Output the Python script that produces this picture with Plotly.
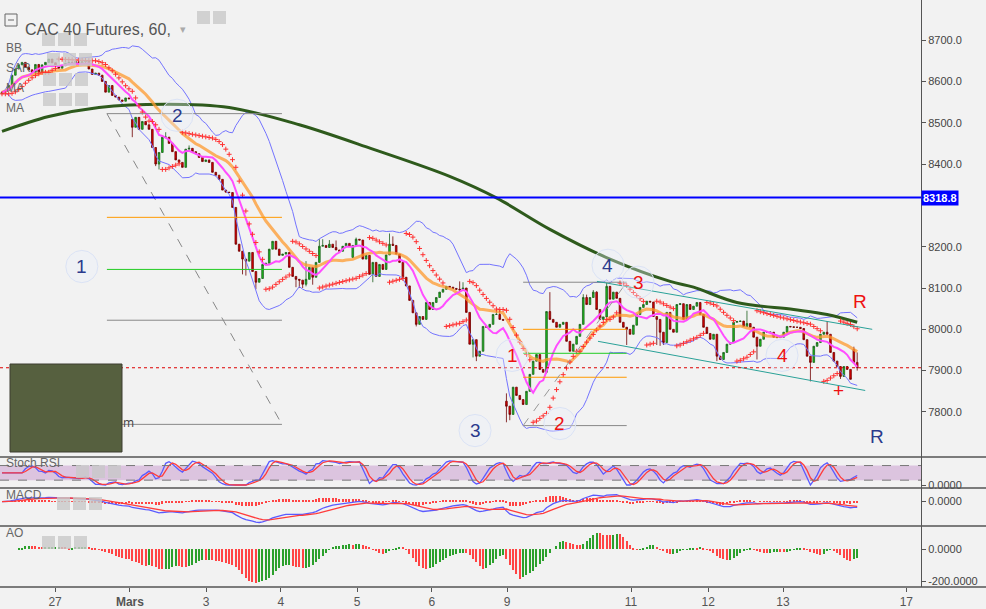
import numpy as np
import pandas as pd
import plotly.graph_objects as go

# hourly closes, CAC 40 futures
closes = [
    8574, 8578, 8590, 8615, 8630, 8640, 8646, 8634, 8628, 8622,
    8641, 8622, 8640, 8646, 8654, 8645, 8636, 8632, 8638, 8644,
    8646, 8645, 8648, 8644, 8648, 8650, 8630, 8617, 8620, 8615,
    8600, 8574, 8590, 8566, 8562, 8555, 8552, 8560, 8558, 8489,
    8513, 8484, 8503, 8495, 8484, 8440, 8400, 8428, 8465, 8465,
    8450, 8430, 8410, 8404, 8392, 8436, 8438, 8430, 8425, 8416,
    8406, 8410, 8404, 8380, 8373, 8363, 8337, 8332, 8331, 8295,
    8206, 8189, 8170, 8165, 8186, 8140, 8114, 8123, 8157, 8160,
    8194, 8213, 8194, 8179, 8182, 8186, 8150, 8128, 8121, 8119,
    8109, 8121, 8150, 8126, 8162, 8201, 8203, 8198, 8206, 8198,
    8192, 8189, 8201, 8208, 8201, 8203, 8218, 8216, 8170, 8179,
    8133, 8162, 8128, 8157, 8145, 8180, 8206, 8203, 8182, 8162,
    8126, 8105, 8070, 8040, 8012, 8031, 8024, 8065, 8048, 8065,
    8077, 8090, 8097, 8104, 8102, 8099, 8097, 8095, 8100, 8041,
    7964, 7975, 7935, 7947, 8007, 8005, 8012, 8036, 8036, 8024,
    8022, 7814, 7794, 7860, 7840, 7830, 7818, 7850, 7891, 7923,
    7939, 7903, 7896, 8043, 8024, 8017, 8005, 8012, 8017, 7971,
    7947, 7964, 7983, 8012, 8077, 8060, 8077, 8090, 8048, 8024,
    8030, 8104, 8073, 8090, 8075, 8017, 8005, 8000, 7988, 8010,
    8036, 8053, 8060, 8068, 8066, 8031, 8024, 7993, 7968, 8041,
    8000, 7993, 8060, 8062, 8024, 8060, 8048, 8056, 8065, 8036,
    8005, 7990, 7976, 7988, 7935, 7927, 7944, 7964, 7968, 8017,
    8019, 8020, 8007, 8014, 8005, 7981, 7959, 7976, 7993, 7993,
    7993, 7981, 7980, 7981, 7993, 8007, 8006, 8005, 8005, 8002,
    7975, 7935, 7920, 7959, 7968, 7988, 7993, 7988, 7944, 7923,
    7910, 7886, 7910, 7903, 7879, 7920, 7907,
]
first_open = 8570
# session opens that gap away from the previous close
gap_opens = {39: 8508, 105: 8174, 151: 7826, 255: 7952}
# visible wicks
wick_highs = {49: 8477, 56: 8445, 91: 8165, 95: 8218, 96: 8218, 98: 8216, 100: 8215,
              106: 8222, 116: 8232, 117: 8225, 137: 8116, 138: 8114, 148: 8048,
              149: 8046, 151: 7845, 164: 8090, 174: 8085, 175: 8084, 177: 8095,
              178: 8092, 181: 8112, 223: 8045, 247: 8020, 255: 7958, 256: 7944}
wick_lows = {39: 8465, 46: 8395, 47: 8387, 72: 8133, 73: 8130, 76: 8097, 88: 8102,
             89: 8100, 90: 8100, 91: 8104, 93: 8108, 111: 8114, 124: 8007, 141: 7932,
             142: 7923, 151: 7775, 152: 7780, 163: 7893, 187: 7962, 196: 7962,
             197: 7960, 198: 7962, 214: 7923, 226: 7927, 242: 7874, 251: 7880, 256: 7900}

# long moving average (dark green), read at a few bars
ma_long_bar = [0, 14, 29, 49, 68, 89, 111, 134, 148, 164, 182, 200, 207, 220, 237, 247, 256]
ma_long_val = [8479, 8515, 8537, 8545, 8537, 8495, 8436, 8370, 8318, 8242, 8170, 8116,
               8102, 8065, 8048, 8036, 8017]

tick_pos = [15.9, 38.3, 61.1, 83.5, 106.3, 128.7, 151.2, 188.3, 211.4, 233.8, 270.7]
tick_labels = ['27', '<b>Mars</b>', '3', '4', '5', '6', '9', '11', '12', '13', '17']
price_ticks = [7800, 7900, 8000, 8100, 8200, 8400, 8500, 8600, 8700]

resistance = 8318.8
last_price = 7907

# fib / pattern levels drawn by hand on the chart
fib1_bars = [31.4, 83.8]
fib1_levels = [8522, 8271, 8145, 8022, 7770]
fib1_colors = ['#888888', '#ff9900', '#22cc22', '#888888', '#888888']
fib2_bars = [156.0, 187.0]
fib2_levels = [8114, 8000, 7942, 7884, 7767]
fib2_colors = ['#888888', '#ff9900', '#22cc22', '#ff9900', '#888888']
channel_top = [(178.1, 8116), (260.5, 8000)]
channel_bot = [(178.4, 7971), (258.4, 7852)]

n = len(closes)
x = np.arange(n)
close = pd.Series(closes, dtype=float)
open_ = close.shift(1)
open_[0] = first_open
for k, v in gap_opens.items():
    open_[k] = v
high = np.maximum(open_, close)
low = np.minimum(open_, close)
for k, v in wick_highs.items():
    high[k] = max(high[k], v)
for k, v in wick_lows.items():
    low[k] = min(low[k], v)

# indicators
ma_fast = close.rolling(9, min_periods=1).mean()
ma_mid = close.rolling(20, min_periods=1).mean()
sd = close.rolling(20, min_periods=1).std(ddof=0)
bb_up = ma_mid + 2 * sd
bb_lo = ma_mid - 2 * sd


def psar(h, l, step=0.02, amax=0.2):
    h = np.asarray(h); l = np.asarray(l)
    out = np.zeros(len(h))
    bull, af, ep = True, step, h[0]
    out[0] = l[0]
    for i in range(1, len(h)):
        s = out[i - 1] + af * (ep - out[i - 1])
        if bull:
            s = min(s, l[i - 1], l[max(i - 2, 0)])
            if l[i] < s:
                bull, s, ep, af = False, ep, l[i], step
            elif h[i] > ep:
                ep, af = h[i], min(af + step, amax)
        else:
            s = max(s, h[i - 1], h[max(i - 2, 0)])
            if h[i] > s:
                bull, s, ep, af = True, ep, h[i], step
            elif l[i] < ep:
                ep, af = l[i], min(af + step, amax)
        out[i] = s
    return out


sar = psar(high, low)

delta = close.diff().fillna(0)
up = delta.clip(lower=0).ewm(alpha=1 / 14, adjust=False).mean()
dn = (-delta.clip(upper=0)).ewm(alpha=1 / 14, adjust=False).mean()
rsi = (100 - 100 / (1 + up / dn.replace(0, np.nan))).fillna(50)
rlo = rsi.rolling(14, min_periods=1).min()
rhi = rsi.rolling(14, min_periods=1).max()
stoch = ((rsi - rlo) / (rhi - rlo).replace(0, np.nan) * 100).fillna(50)
k_line = stoch.rolling(3, min_periods=1).mean()
d_line = k_line.rolling(3, min_periods=1).mean()

macd = close.ewm(span=12, adjust=False).mean() - close.ewm(span=26, adjust=False).mean()
signal = macd.ewm(span=9, adjust=False).mean()
hist = macd - signal

median = (high + low) / 2
ao = median.rolling(5, min_periods=1).mean() - median.rolling(34, min_periods=1).mean()
ao_colors = ['#2ca02c' if i > 0 and ao[i] >= ao[i - 1] else '#ff4444' for i in range(n)]

fig = go.Figure()

# main pane
fig.add_trace(go.Scatter(x=x, y=bb_up, mode='lines', line=dict(color='#7474ff', width=1)))
fig.add_trace(go.Scatter(x=x, y=bb_lo, mode='lines', line=dict(color='#7474ff', width=1)))
fig.add_trace(go.Scatter(x=ma_long_bar, y=ma_long_val, mode='lines',
                         line=dict(color='#2e5a1c', width=3, shape='spline')))
fig.add_trace(go.Scatter(x=x, y=ma_mid, mode='lines', opacity=0.75,
                         line=dict(color='#ff9a2e', width=3)))
fig.add_trace(go.Scatter(x=x, y=ma_fast, mode='lines', line=dict(color='#ff4dff', width=2)))
fig.add_trace(go.Scatter(x=x, y=sar, mode='markers',
                         marker=dict(symbol='cross-thin', size=3.5,
                                     line=dict(color='#ff3030', width=1))))
fig.add_trace(go.Candlestick(
    x=x, open=open_, high=high, low=low, close=close,
    increasing=dict(line=dict(color='#1d5e1d', width=0.8), fillcolor='#19c219'),
    decreasing=dict(line=dict(color='#6e0000', width=0.8), fillcolor='#e00000'),
    whiskerwidth=0,
))

# stoch rsi pane
fig.add_trace(go.Scatter(x=x, y=k_line, mode='lines', xaxis='x2', yaxis='y2',
                         line=dict(color='#5a5aff', width=1.3)))
fig.add_trace(go.Scatter(x=x, y=d_line, mode='lines', xaxis='x2', yaxis='y2',
                         line=dict(color='#ff3c3c', width=1.3)))

# macd pane
fig.add_trace(go.Bar(x=x, y=hist, xaxis='x3', yaxis='y3', width=0.35,
                     marker=dict(color='#ff4444', line_width=0)))
fig.add_trace(go.Scatter(x=x, y=macd, mode='lines', xaxis='x3', yaxis='y3',
                         line=dict(color='#5a5aff', width=1.3)))
fig.add_trace(go.Scatter(x=x, y=signal, mode='lines', xaxis='x3', yaxis='y3',
                         line=dict(color='#ff3c3c', width=1.3)))

# awesome oscillator pane
fig.add_trace(go.Bar(x=x, y=ao, xaxis='x4', yaxis='y4', width=0.35,
                     marker=dict(color=ao_colors, line_width=0)))

W, H = 921.0, 587.0


def px(v):
    return v / W


def py(v):
    return 1 - v / H


shapes = []
# hand drawn levels
for lvl, col in zip(fib1_levels, fib1_colors):
    shapes.append(dict(type='line', x0=fib1_bars[0], x1=fib1_bars[1], y0=lvl, y1=lvl,
                       xref='x', yref='y', line=dict(color=col, width=1)))
shapes.append(dict(type='line', x0=fib1_bars[0], x1=fib1_bars[1], y0=fib1_levels[0],
                   y1=fib1_levels[-1], xref='x', yref='y',
                   line=dict(color='#888888', width=1, dash='dash')))
for lvl, col in zip(fib2_levels, fib2_colors):
    shapes.append(dict(type='line', x0=fib2_bars[0], x1=fib2_bars[1], y0=lvl, y1=lvl,
                       xref='x', yref='y', line=dict(color=col, width=1)))
shapes.append(dict(type='line', x0=fib2_bars[0], x1=fib2_bars[1], y0=fib2_levels[-1],
                   y1=fib2_levels[0], xref='x', yref='y',
                   line=dict(color='#999999', width=1, dash='dash')))
for seg in (channel_top, channel_bot):
    shapes.append(dict(type='line', x0=seg[0][0], y0=seg[0][1], x1=seg[1][0], y1=seg[1][1],
                       xref='x', yref='y', line=dict(color='#2aa198', width=1)))
shapes.append(dict(type='line', x0=0, x1=1, xref='paper', y0=resistance, y1=resistance,
                   yref='y', line=dict(color='#0000ff', width=2)))
shapes.append(dict(type='line', x0=0, x1=1, xref='paper', y0=last_price, y1=last_price,
                   yref='y', line=dict(color='#dd0000', width=1, dash='dot')))
# stoch band
shapes.append(dict(type='rect', x0=0, x1=1, xref='paper', y0=20, y1=80, yref='y2',
                   fillcolor='#dcc4df', line=dict(width=0), layer='below'))
for lv in (20, 80):
    shapes.append(dict(type='line', x0=0, x1=1, xref='paper', y0=lv, y1=lv, yref='y2',
                       line=dict(color='#777777', width=1, dash='dash')))
# pane separators
for yy in (457, 488, 526, 587):
    shapes.append(dict(type='line', x0=0, x1=986 / W, y0=py(yy), y1=py(yy),
                       xref='paper', yref='paper', line=dict(color='#555555', width=1.5)))
# picture placeholder
shapes.append(dict(type='rect', x0=px(10), x1=px(122), y0=py(452), y1=py(364),
                   xref='paper', yref='paper', fillcolor='#56603f',
                   line=dict(color='#3d3d30', width=1)))
# legend icon boxes
icon_rows = [(197, 11, 2), (42, 33, 3), (47, 53, 3), (43, 73, 3), (43, 93, 3),
             (76, 465, 3), (57, 497, 3), (42, 536, 3)]
for x0, y0, cnt in icon_rows:
    for j in range(cnt):
        shapes.append(dict(type='rect', x0=px(x0 + j * 16), x1=px(x0 + j * 16 + 13),
                           y0=py(y0 + 13), y1=py(y0), xref='paper', yref='paper',
                           fillcolor='rgba(200,200,200,0.8)', line=dict(width=0)))
shapes.append(dict(type='rect', x0=px(5), x1=px(17), y0=py(26), y1=py(14),
                   xref='paper', yref='paper', line=dict(color='#666666', width=1)))
shapes.append(dict(type='line', x0=px(8), x1=px(14), y0=py(20), y1=py(20),
                   xref='paper', yref='paper', line=dict(color='#666666', width=1)))

# circled wave counts
waves = [('1', 23.9, 8152, '#2b3a8c'), ('2', 52.4, 8518, '#2b3a8c'), ('3', 141.6, 7755, '#2b3a8c'),
         ('4', 181.4, 8155, '#2b3a8c'), ('1', 152.7, 7937, '#ee1111'), ('2', 167.0, 7772, '#ee1111'),
         ('3', 190.4, 8114, '#ee1111'), ('4', 233.5, 7937, '#ee1111')]
for _, wx, wy, _c in waves:
    shapes.append(dict(type='circle', xref='x', yref='y', x0=wx - 4.8, x1=wx + 4.8,
                       y0=wy - 39, y1=wy + 39, fillcolor='rgba(235,240,252,0.35)',
                       line=dict(color='#dbe3f5', width=1)))

annotations = []
for t, wx, wy, c in waves:
    annotations.append(dict(x=wx, y=wy, xref='x', yref='y', text=t, showarrow=False,
                            font=dict(size=19, color=c, family='Liberation Sans')))
for t, wx, wy, c in [('+', 250.3, 7852, '#ee1111'), ('R', 256.9, 8068, '#ee1111'),
                     ('R', 262.0, 7741, '#2b3a8c')]:
    annotations.append(dict(x=wx, y=wy, xref='x', yref='y', text=t, showarrow=False,
                            font=dict(size=19, color=c, family='Liberation Sans')))

lab = dict(xref='paper', yref='paper', showarrow=False, xanchor='left',
           font=dict(size=12, color='#666666', family='Liberation Sans'))
annotations.append(dict(lab, x=px(23), y=py(19), text='CAC 40 Futures, 60,',
                        font=dict(size=16, color='#555555', family='Liberation Sans')))
annotations.append(dict(lab, x=px(178), y=py(19), text='▾',
                        font=dict(size=11, color='#aaaaaa')))
for t, xx, yy in [('BB', 4, 39), ('SAR', 4, 59), ('MA', 4, 79), ('MA', 4, 99),
                  ('Stoch RSI', 4, 472), ('MACD', 4, 504), ('AO', 4, 542)]:
    annotations.append(dict(lab, x=px(xx), y=py(yy), text=t))
annotations.append(dict(lab, x=px(121), y=py(433), text='m',
                        font=dict(size=12, color='#444444')))
annotations.append(dict(x=1, y=resistance, xref='paper', yref='y', xanchor='left',
                        text='<b>8318.8</b>', showarrow=False, bgcolor='#0000ff',
                        borderpad=1, font=dict(size=11, color='white', family='Liberation Sans')))

xcommon = dict(range=[-0.6, 275.1], showgrid=False, zeroline=False, showticklabels=False,
               domain=[0, 1])
ycommon = dict(side='right', showgrid=False, zeroline=False, showline=True,
               linecolor='#555555', linewidth=1, ticks='outside', ticklen=4,
               tickcolor='#555555', tickfont=dict(size=11, color='#444444',
                                                  family='Liberation Sans'))

fig.update_layout(
    width=986, height=609,
    margin=dict(l=0, r=65, t=0, b=22),
    paper_bgcolor='#f2f2f2',
    plot_bgcolor='#f2f2f2',
    showlegend=False,
    bargap=0,
    xaxis=dict(xcommon, anchor='y', rangeslider=dict(visible=False)),
    xaxis2=dict(xcommon, anchor='y2', matches='x'),
    xaxis3=dict(xcommon, anchor='y3', matches='x'),
    xaxis4=dict(xcommon, anchor='y4', matches='x', showticklabels=True,
                tickvals=tick_pos, ticktext=tick_labels, ticks='outside', ticklen=4,
                tickcolor='#555555',
                tickfont=dict(size=12, color='#555555', family='Liberation Sans')),
    yaxis=dict(ycommon, anchor='x', domain=[py(457), 1], range=[7691, 8797],
               tickvals=price_ticks, tickformat='.1f'),
    yaxis2=dict(ycommon, anchor='x2', domain=[py(488), py(457)], range=[-12.3, 115.2],
                tickvals=[0], ticktext=['0.0000']),
    yaxis3=dict(ycommon, anchor='x3', domain=[py(526), py(488)], range=[-100, 56],
                tickvals=[0], ticktext=['0.0000']),
    yaxis4=dict(ycommon, anchor='x4', domain=[0, py(526)], range=[-238, 149],
                tickvals=[-200, 0], ticktext=['-200.0000', '0.0000']),
    shapes=shapes,
    annotations=annotations,
)

fig.write_html('out.html', config={'displayModeBar': False},
               post_script="document.body.style.margin='0';")
